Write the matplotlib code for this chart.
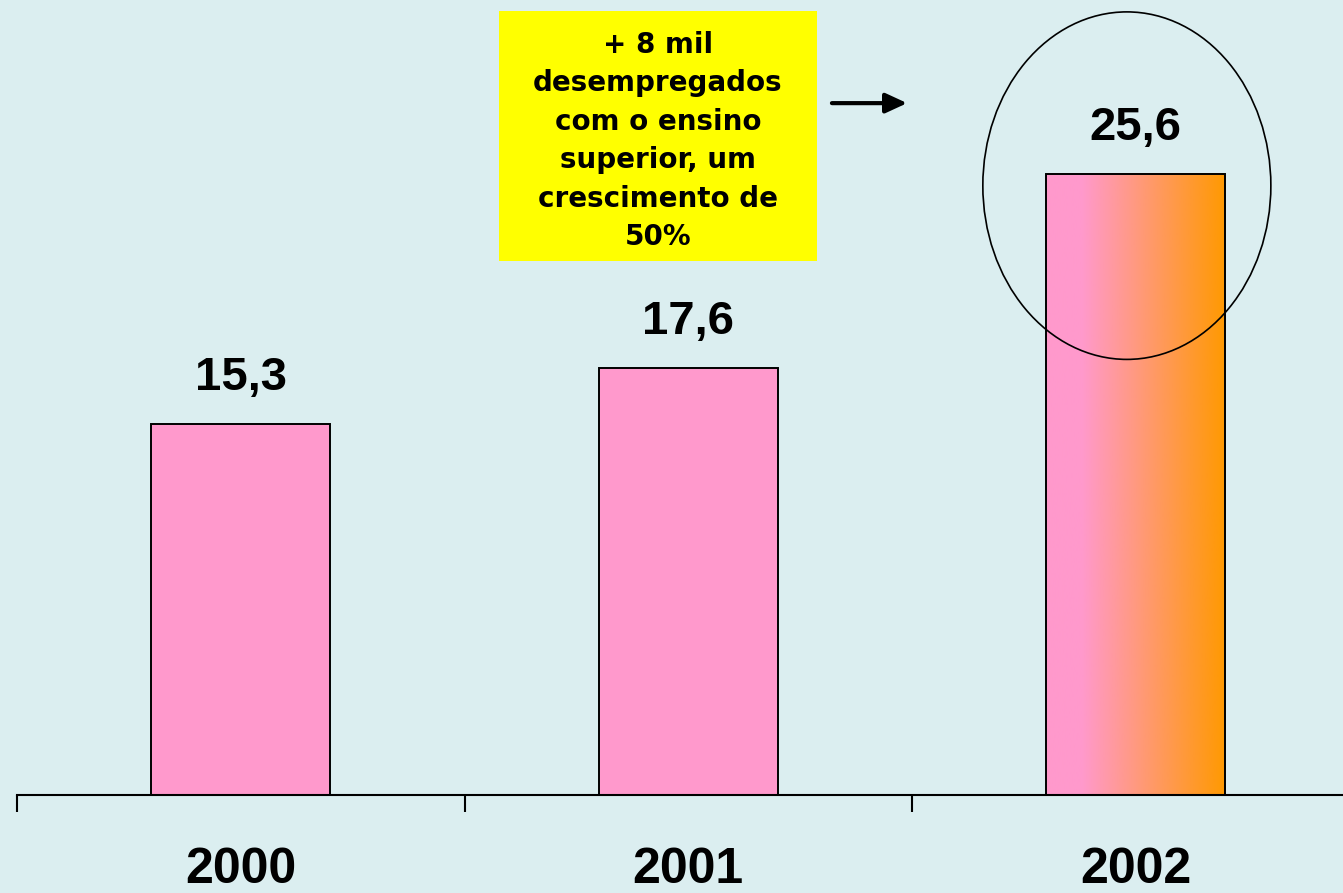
import numpy as np
import matplotlib.pyplot as plt
from matplotlib.patches import Ellipse, Rectangle
from matplotlib.colors import LinearSegmentedColormap

years = ['2000', '2001', '2002']
values = [15.3, 17.6, 25.6]
value_labels = ['15,3', '17,6', '25,6']
note = '+ 8 mil\ndesempregados\ncom o ensino\nsuperior, um\ncrescimento de\n50%'

bg = '#dbeef0'
pink = '#ff99cc'

fig = plt.figure(figsize=(13.43, 8.93), dpi=100, facecolor=bg)
ax = fig.add_axes([17 / 1343, 98 / 893, 1326 / 1343, 795 / 893])
ax.set_facecolor(bg)

x = np.arange(len(years))
bars = ax.bar(x, values, width=0.4, color=pink, edgecolor='black', linewidth=1.4, zorder=2)

# gradient fill on the last bar
last = bars[-1]
bars[-1].set_facecolor('none')
grad = LinearSegmentedColormap.from_list('pk', [(0, pink), (0.2, pink), (1, '#ff9900')])
ax.imshow(np.linspace(0, 1, 256).reshape(1, -1), cmap=grad, aspect='auto',
          extent=[last.get_x(), last.get_x() + last.get_width(), 0, last.get_height()], zorder=1)

for i, v in enumerate(values):
    ax.text(x[i], v + 1.4, value_labels[i], ha='center', va='baseline',
            fontsize=34, fontweight='bold', family='Liberation Sans')
    ax.text(x[i], -0.111, years[i], ha='center', va='baseline', transform=ax.get_xaxis_transform(),
            fontsize=36, fontweight='bold', family='Liberation Sans')

ax.set_xlim(-0.5, 2.463)
ax.set_ylim(0, 32.76)
for s in ['top', 'right', 'left']:
    ax.spines[s].set_visible(False)
ax.spines['bottom'].set_linewidth(1.5)
ax.set_yticks([])
ax.set_xticks([-0.5, 0.5, 1.5])
ax.set_xticklabels([])
ax.tick_params(axis='x', direction='out', length=12, width=1.5)

# yellow note box
ax.add_patch(Rectangle((0.932 - 0.3553, 22.0), 0.7106, 10.3, facecolor='#ffff00',
                       edgecolor='none', zorder=3))
ax.text(0.932, 26.95, note, ha='center', va='center', fontsize=20, fontweight='bold',
        family='DejaVu Sans', linespacing=1.48, zorder=4)

ax.annotate('', xy=(1.489, 28.51), xytext=(1.321, 28.51),
            arrowprops=dict(arrowstyle='-|>,head_length=1.3,head_width=0.6', color='black',
                            lw=3, shrinkA=0, shrinkB=0))

ax.add_patch(Ellipse((1.980, 25.11), 0.6436, 14.32, facecolor='none', edgecolor='black',
                     linewidth=1.2, zorder=5))

fig.savefig('out.png', dpi=100, facecolor=bg)
